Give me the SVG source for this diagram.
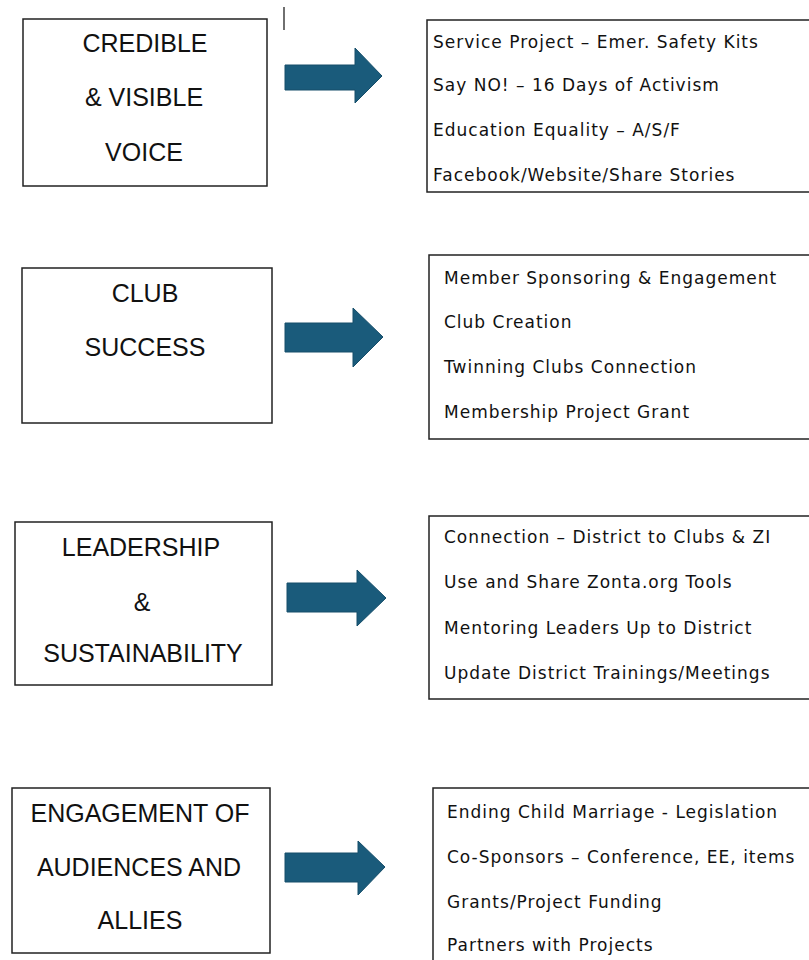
<svg xmlns="http://www.w3.org/2000/svg" width="809" height="960" viewBox="0 0 809 960">
<style>
.box{fill:#fff;stroke:#222;stroke-width:1.5}
.title{font-family:"Liberation Sans",Arial,sans-serif;font-size:25px;fill:#111;text-anchor:middle}
.item{font-family:"DejaVu Sans",sans-serif;font-size:17px;fill:#111;letter-spacing:1px}
.arrow{fill:#1a5b7b;stroke:#164e6a;stroke-width:1}
</style>
<rect width="809" height="960" fill="#fff"/>
<line x1="284" y1="7" x2="284" y2="30" stroke="#222" stroke-width="1.3"/>

<g id="goal1">
<rect class="box" x="23" y="19" width="244" height="167"/>
<text class="title" x="145" y="52">CREDIBLE</text>
<text class="title" x="144" y="106">&amp; VISIBLE</text>
<text class="title" x="144" y="161">VOICE</text>
</g>
<g id="goal2">
<rect class="box" x="22" y="268" width="250" height="155"/>
<text class="title" x="145" y="302">CLUB</text>
<text class="title" x="145" y="356">SUCCESS</text>
</g>
<g id="goal3">
<rect class="box" x="15" y="522" width="257" height="163"/>
<text class="title" x="141" y="556">LEADERSHIP</text>
<text class="title" x="142" y="611">&amp;</text>
<text class="title" x="143" y="662">SUSTAINABILITY</text>
</g>
<g id="goal4">
<rect class="box" x="12" y="788" width="258" height="165"/>
<text class="title" x="140" y="822">ENGAGEMENT OF</text>
<text class="title" x="139" y="876">AUDIENCES AND</text>
<text class="title" x="140" y="929">ALLIES</text>
</g>

<g id="list1">
<rect class="box" x="427" y="20" width="400" height="172"/>
<text class="item" x="433" y="48">Service Project – Emer. Safety Kits</text>
<text class="item" x="433" y="91">Say NO! – 16 Days of Activism</text>
<text class="item" x="433" y="136">Education Equality – A/S/F</text>
<text class="item" x="433" y="181">Facebook/Website/Share Stories</text>
</g>
<g id="list2">
<rect class="box" x="429" y="255" width="400" height="184"/>
<text class="item" x="444" y="284">Member Sponsoring &amp; Engagement</text>
<text class="item" x="444" y="328">Club Creation</text>
<text class="item" x="444" y="373">Twinning Clubs Connection</text>
<text class="item" x="444" y="418">Membership Project Grant</text>
</g>
<g id="list3">
<rect class="box" x="429" y="516" width="400" height="183"/>
<text class="item" x="444" y="543">Connection – District to Clubs &amp; ZI</text>
<text class="item" x="444" y="588">Use and Share Zonta.org Tools</text>
<text class="item" x="444" y="634">Mentoring Leaders Up to District</text>
<text class="item" x="444" y="679">Update District Trainings/Meetings</text>
</g>
<g id="list4">
<rect class="box" x="433" y="788" width="400" height="200"/>
<text class="item" x="447" y="818">Ending Child Marriage - Legislation</text>
<text class="item" x="447" y="863">Co-Sponsors – Conference, EE, items</text>
<text class="item" x="447" y="908">Grants/Project Funding</text>
<text class="item" x="447" y="951">Partners with Projects</text>
</g>

<g id="connectors">
<path class="arrow" d="M285 65 H355 V48 L382 76 L355 103 V90 H285 Z"/>
<path class="arrow" d="M285 323 H353 V308 L383 337 L353 367 V352 H285 Z"/>
<path class="arrow" d="M287 583 H357 V570 L386 598 L357 626 V612 H287 Z"/>
<path class="arrow" d="M285 853 H358 V841 L385 867 L358 895 V882 H285 Z"/>
</g>
</svg>
